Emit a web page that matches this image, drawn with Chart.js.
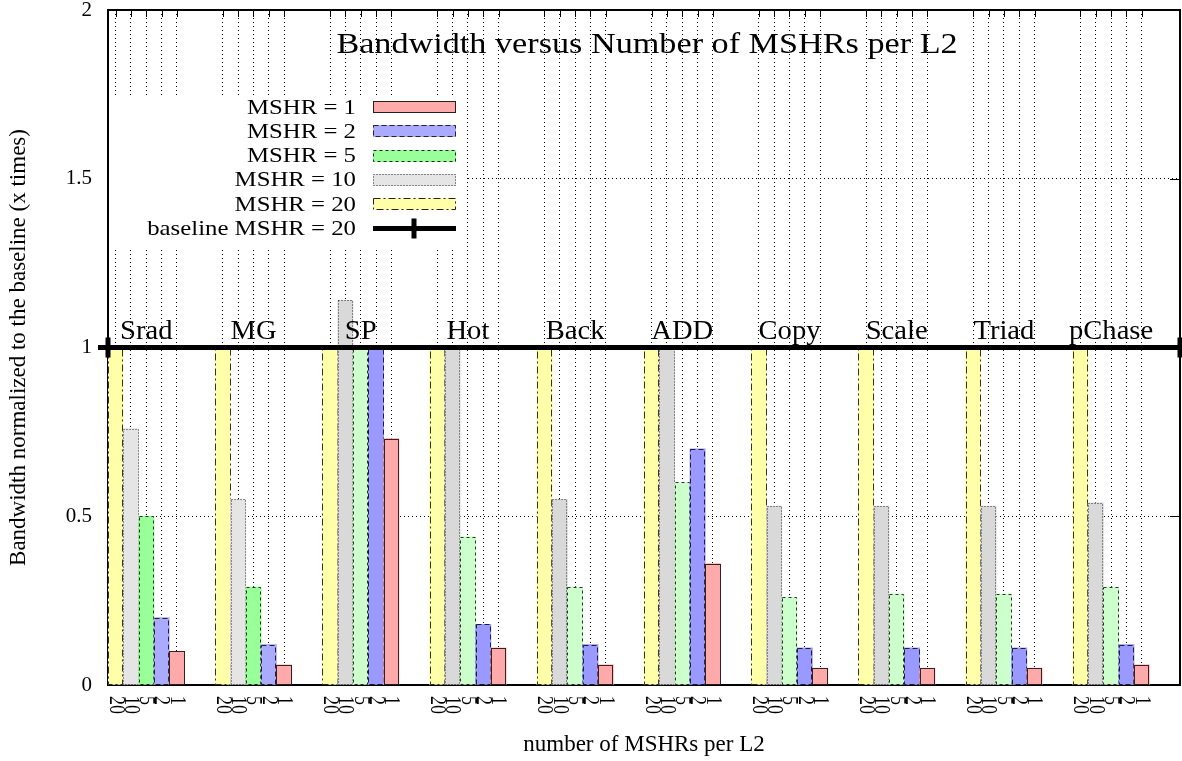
<!DOCTYPE html>
<html>
<head>
<meta charset="utf-8">
<title>Bandwidth versus Number of MSHRs per L2</title>
<script src="https://cdn.jsdelivr.net/npm/chart.js@4.4.1/dist/chart.umd.min.js"></script>
<style>
  html, body { margin: 0; padding: 0; background: #fff; }
  #wrap { width: 1182px; height: 761px; }
</style>
</head>
<body>
<div id="wrap"><canvas id="chart" width="1182" height="761"></canvas></div>
<script>
// Benchmarks (one cluster each) and the MSHR setting of each bar in a cluster
const benchmarks = ['Srad', 'MG', 'SP', 'Hot', 'Back', 'ADD', 'Copy', 'Scale', 'Triad', 'pChase'];
const mshrTicks = ['20', '10', '5', '2', '1'];
const gapSlots = 2;

// Bandwidth normalized to baseline MSHR = 20 (x times), one value per benchmark
const mshr20 = [1, 1, 1, 1, 1, 1, 1, 1, 1, 1];
const mshr10 = [0.76, 0.55, 1.14, 1.0, 0.55, 1.0, 0.53, 0.53, 0.53, 0.54];
const mshr5  = [0.50, 0.29, 1.0, 0.44, 0.29, 0.60, 0.26, 0.27, 0.27, 0.29];
const mshr2  = [0.20, 0.12, 1.0, 0.18, 0.12, 0.70, 0.11, 0.11, 0.11, 0.12];
const mshr1  = [0.10, 0.06, 0.73, 0.11, 0.06, 0.36, 0.05, 0.05, 0.05, 0.06];
const baselineLevel = [1, 1];

const yTicks = [0, 0.5, 1, 1.5, 2];

const FONT = '"Liberation Serif", "Times New Roman", serif';
Chart.defaults.font.family = FONT;
Chart.defaults.color = '#000';

// one slot per bar plus empty gap slots between clusters
const perGroup = mshrTicks.length + gapSlots;
const slotLabels = [];
benchmarks.forEach(() => {
    mshrTicks.forEach(t => slotLabels.push(t));
    for (let i = 0; i < gapSlots; i++) slotLabels.push('');
});

// the first two clusters were plotted with brighter fills
const brightGroups = 2;
const series = [
    { label: 'MSHR = 1',  tick: '1',  values: mshr1,  fill: '#ffaaaa', fillAlt: '#ffaaaa', dash: [] },
    { label: 'MSHR = 2',  tick: '2',  values: mshr2,  fill: '#aaaaff', fillAlt: '#9999ff', dash: [5, 3] },
    { label: 'MSHR = 5',  tick: '5',  values: mshr5,  fill: '#99ff99', fillAlt: '#ccffcc', dash: [3, 3] },
    { label: 'MSHR = 10', tick: '10', values: mshr10, fill: '#e5e5e5', fillAlt: '#d9d9d9', dash: [1, 2] },
    { label: 'MSHR = 20', tick: '20', values: mshr20, fill: '#ffffaa', fillAlt: '#ffffaa', dash: [7, 3, 2, 3] }
];

function spread(values, pos) {
    const out = slotLabels.map(() => null);
    values.forEach((v, g) => { out[g * perGroup + pos] = v; });
    return out;
}

const datasets = series.map(s => ({
    type: 'bar',
    label: s.label,
    data: spread(s.values, mshrTicks.indexOf(s.tick)),
    backgroundColor: ctx => Math.floor(ctx.dataIndex / perGroup) < brightGroups ? s.fill : s.fillAlt,
    borderWidth: 0,
    grouped: false,
    barPercentage: 1,
    categoryPercentage: 1,
    order: 1,
    dash: s.dash
}));

datasets.push({
    type: 'line',
    label: 'baseline MSHR = 20',
    xAxisID: 'x2',
    data: baselineLevel.map((v, i) => ({ x: i * slotLabels.length, y: v })),
    borderColor: '#000',
    borderWidth: 5,
    pointStyle: 'cross',
    pointRadius: 10,
    pointBorderWidth: 5,
    pointBorderColor: '#000',
    clip: false,
    order: 0
});

function drawText(ctx, text, x, y, o) {
    ctx.save();
    ctx.translate(x, y);
    if (o.rotate) ctx.rotate(o.rotate);
    ctx.scale(o.sx || 1, o.sy || 1);
    ctx.font = o.size + 'px ' + FONT;
    ctx.fillStyle = '#000';
    ctx.textAlign = o.align || 'left';
    ctx.textBaseline = o.baseline || 'alphabetic';
    ctx.fillText(text, 0, 0);
    ctx.restore();
}

function line(ctx, x1, y1, x2, y2) {
    ctx.beginPath();
    ctx.moveTo(x1, y1);
    ctx.lineTo(x2, y2);
    ctx.stroke();
}

function noPadding(s) {
    s.paddingTop = 0;
    s.paddingBottom = 0;
    s.paddingLeft = 0;
    s.paddingRight = 0;
}

const gnuplotLook = {
    id: 'gnuplotLook',
    beforeDatasetsDraw(chart) {
        const { ctx, chartArea: a, scales } = chart;
        ctx.save();
        ctx.strokeStyle = '#000';
        ctx.lineWidth = 2;
        ctx.strokeRect(a.left, a.top, a.right - a.left, a.bottom - a.top);
        ctx.lineWidth = 1;
        yTicks.forEach(v => {
            const y = Math.round(scales.y.getPixelForValue(v)) + 0.5;
            line(ctx, a.left, y, a.left + 10, y);
            line(ctx, a.right - 10, y, a.right, y);
        });
        slotLabels.forEach((t, i) => {
            if (!t) return;
            const x = Math.round(scales.x.getPixelForValue(i)) + 0.5;
            line(ctx, x, a.top, x, a.top + 7);
            line(ctx, x, a.bottom - 7, x, a.bottom);
        });
        ctx.restore();
    },
    afterDatasetDraw(chart, args) {
        const ds = chart.data.datasets[args.index];
        if (ds.type !== 'bar') return;
        const ctx = chart.ctx;
        ctx.save();
        ctx.strokeStyle = 'rgba(0,0,0,0.8)';
        ctx.lineWidth = 1;
        ctx.setLineDash(ds.dash);
        args.meta.data.forEach((bar, i) => {
            if (ds.data[i] == null) return;
            const p = bar.getProps(['x', 'y', 'base', 'width'], true);
            const l = Math.round(p.x - p.width / 2) + 0.5;
            const r = Math.round(p.x + p.width / 2) - 0.5;
            const t = Math.round(p.y) + 0.5;
            ctx.strokeRect(l, t, r - l, p.base - t);
        });
        ctx.restore();
    },
    afterDraw(chart) {
        const { ctx, chartArea: a, scales } = chart;

        // x tick labels, rotated to read downwards
        slotLabels.forEach((t, i) => {
            if (!t) return;
            drawText(ctx, t, scales.x.getPixelForValue(i), a.bottom + 11,
                { size: 18, rotate: Math.PI / 2, sy: 1.3, baseline: 'middle' });
        });

        // benchmark names above each cluster
        benchmarks.forEach((name, g) => {
            drawText(ctx, name, scales.x.getPixelForValue(g * perGroup + 2),
                scales.y.getPixelForValue(1) - 9, { size: 27, sx: 1.06, align: 'center' });
        });

        // title inside the plot
        drawText(ctx, 'Bandwidth versus Number of MSHRs per L2', (a.left + a.right) / 2 + 3, 53,
            { size: 30, sx: 1.14, align: 'center' });

        // key
        ctx.save();
        ctx.fillStyle = '#fff';
        ctx.fillRect(a.left + 1, 95, 356, 152);
        const rowY = i => 107 + i * 24.3;
        series.forEach((s, i) => {
            const y = rowY(i);
            drawText(ctx, s.label, 356, y + 1, { size: 21, sx: 1.18, align: 'right', baseline: 'middle' });
            ctx.fillStyle = s.fill;
            ctx.fillRect(373, Math.round(y) - 6, 83, 12);
            ctx.strokeStyle = '#222';
            ctx.lineWidth = 1;
            ctx.setLineDash(s.dash);
            ctx.strokeRect(373.5, Math.round(y) - 5.5, 82, 11);
        });
        const by = rowY(series.length);
        drawText(ctx, 'baseline MSHR = 20', 356, by + 1, { size: 21, sx: 1.18, align: 'right', baseline: 'middle' });
        ctx.setLineDash([]);
        ctx.strokeStyle = '#000';
        ctx.lineWidth = 5;
        line(ctx, 373, by, 456, by);
        line(ctx, 414, by - 10, 414, by + 10);
        ctx.restore();
    }
};

new Chart(document.getElementById('chart'), {
    data: { labels: slotLabels, datasets: datasets },
    options: {
        responsive: false,
        animation: false,
        devicePixelRatio: 1,
        layout: { autoPadding: false, padding: { top: 10, right: 2, left: 0, bottom: 0 } },
        plugins: {
            legend: { display: false },
            tooltip: { enabled: false }
        },
        scales: {
            x: {
                type: 'category',
                offset: true,
                grid: {
                    offset: false,
                    drawTicks: false,
                    lineWidth: 1,
                    color: ctx => slotLabels[ctx.index] ? '#000' : 'rgba(0,0,0,0)'
                },
                border: { display: false, dash: [1, 3] },
                ticks: { display: false },
                title: {
                    display: true,
                    text: 'number of MSHRs per L2',
                    font: { size: 23 },
                    padding: { top: 0, bottom: 2 }
                },
                afterFit: s => { s.height = 76; noPadding(s); }
            },
            x2: {
                type: 'linear',
                display: false,
                min: 0,
                max: slotLabels.length,
                afterFit: noPadding
            },
            y: {
                min: 0,
                max: 2,
                afterBuildTicks: s => { s.ticks = yTicks.map(v => ({ value: v })); },
                ticks: { font: { size: 21 }, padding: 16, callback: v => String(v) },
                grid: { color: '#000', drawTicks: false, lineWidth: 1 },
                border: { display: false, dash: [1, 3] },
                title: {
                    display: true,
                    text: 'Bandwidth normalized to the baseline (x times)',
                    font: { size: 23 },
                    padding: { top: 5, bottom: 0 }
                },
                afterFit: s => { s.width = 108; noPadding(s); }
            }
        }
    },
    plugins: [gnuplotLook]
});
</script>
</body>
</html>
